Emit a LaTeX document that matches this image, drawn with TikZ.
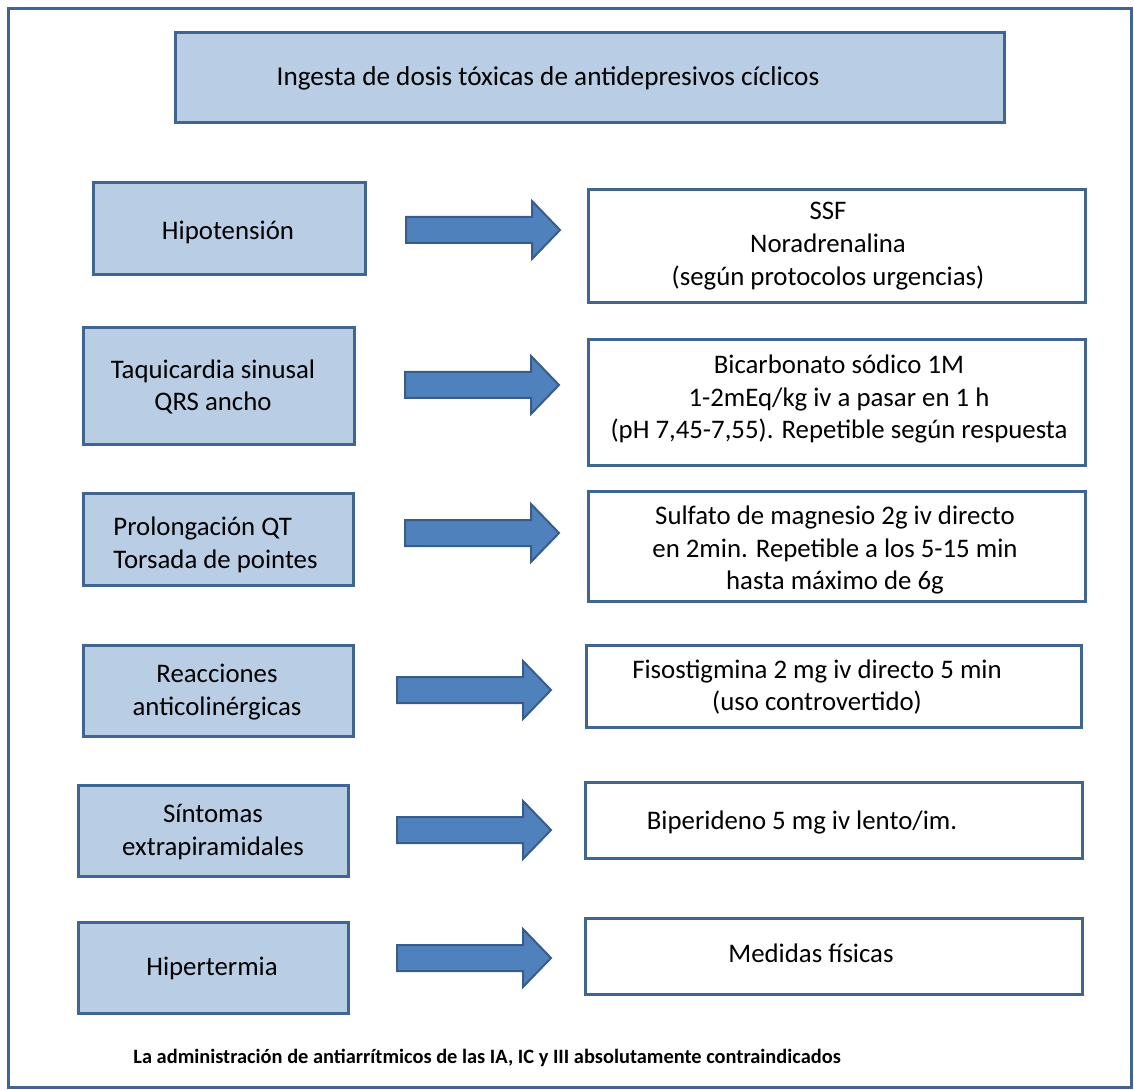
\documentclass[tikz,border=0pt]{standalone}
\usepackage{fontspec}
\setmainfont{Carlito}
\usetikzlibrary{fit}
\definecolor{frameblue}{RGB}{65,101,145}
\definecolor{boxfill}{RGB}{185,205,229}
\definecolor{arrowfill}{RGB}{79,129,189}
\definecolor{arrowedge}{RGB}{56,93,138}

\begin{document}
\begin{tikzpicture}[x=0.5pt,y=-0.5pt,
  symptom/.style={draw=frameblue, line width=1.5pt, fill=boxfill, inner sep=0pt},
  treatment/.style={draw=frameblue, line width=1.5pt, fill=white, inner sep=0pt},
  txt/.style={font=\fontsize{13.4}{16.4}\selectfont, align=center, inner sep=0pt},
  blockarrow/.style={draw=arrowedge, line width=1pt, fill=arrowfill, line join=miter}
]
\useasboundingbox (0,0) rectangle (1134,1090);
% outer frame
\node[draw=frameblue, line width=1.5pt, inner sep=0pt, fit={(8,9) (1131,1087)}] (frame) {};

% title
\node[symptom, fit={(175,33) (1004,123)}] (title) {};
\node[txt, font=\fontsize{13.6}{16.4}\selectfont] (ttitle) at (548,78) {Ingesta de dosis tóxicas de antidepresivos cíclicos};

% symptom boxes
\node[symptom, fit={(93,183) (365,275)}] (s1) {};
\node[symptom, fit={(83,328) (354,445)}] (s2) {};
\node[symptom, fit={(83,494) (353,585)}] (s3) {};
\node[symptom, fit={(83,645) (353,736)}] (s4) {};
\node[symptom, fit={(78,785) (348,876)}] (s5) {};
\node[symptom, fit={(78,922) (348,1013)}] (s6) {};

\node[txt] (ts1) at (228,232) {Hipotensión};
\node[txt] (ts2) at (213,387) {Taquicardia sinusal\\QRS ancho};
\node[txt, anchor=west, align=left] (ts3) at (113,545) {Prolongación QT\\Torsada de pointes};
\node[txt] (ts4) at (217,692) {Reacciones\\anticolinérgicas};
\node[txt] (ts5) at (213,832) {Síntomas\\extrapiramidales};
\node[txt] (ts6) at (212,968) {Hipertermia};

% treatment boxes
\node[treatment, fit={(588,190) (1085,303)}] (r1) {};
\node[treatment, fit={(588,340) (1085,466)}] (r2) {};
\node[treatment, fit={(588,492) (1085,601)}] (r3) {};
\node[treatment, fit={(586,645) (1081,727)}] (r4) {};
\node[treatment, fit={(585,782) (1082,858)}] (r5) {};
\node[treatment, fit={(585,918) (1082,994)}] (r6) {};

\node[txt] (tr1) at (828,246) {SSF\\Noradrenalina\\(según protocolos urgencias)};
\node[txt] (tr2) at (839,399) {Bicarbonato sódico 1M\\1-2mEq/kg iv a pasar en 1 h\\(pH 7,45-7,55). Repetible según respuesta};
\node[txt] (tr3) at (835,550) {Sulfato de magnesio 2g iv directo\\en 2min. Repetible a los 5-15 min\\hasta máximo de 6g};
\node[txt] (tr4) at (817,687) {Fisostigmina 2 mg iv directo 5 min\\(uso controvertido)};
\node[txt] (tr5) at (802,822) {Biperideno 5 mg iv lento/im.};
\node[txt] (tr6) at (811,953) {Medidas físicas};

% block arrows
\foreach \n/\x/\y in {1/406/230, 2/405/385, 3/405/533, 4/397/690, 5/397/830, 6/397/958}{
  \coordinate (a\n) at (\x,\y);
  \draw[blockarrow] (a\n) ++(0,-13) -- ++(126,0) -- ++(0,-16) -- ++(28,29)
    -- ++(-28,29) -- ++(0,-16) -- ++(-126,0) -- cycle;
}

% footnote
\node[anchor=west, inner sep=0pt, font=\fontsize{10.2}{12}\selectfont\bfseries] (note) at (133,1058)
  {La administración de antiarrítmicos de las IA, IC y III absolutamente contraindicados};
\end{tikzpicture}
\end{document}
